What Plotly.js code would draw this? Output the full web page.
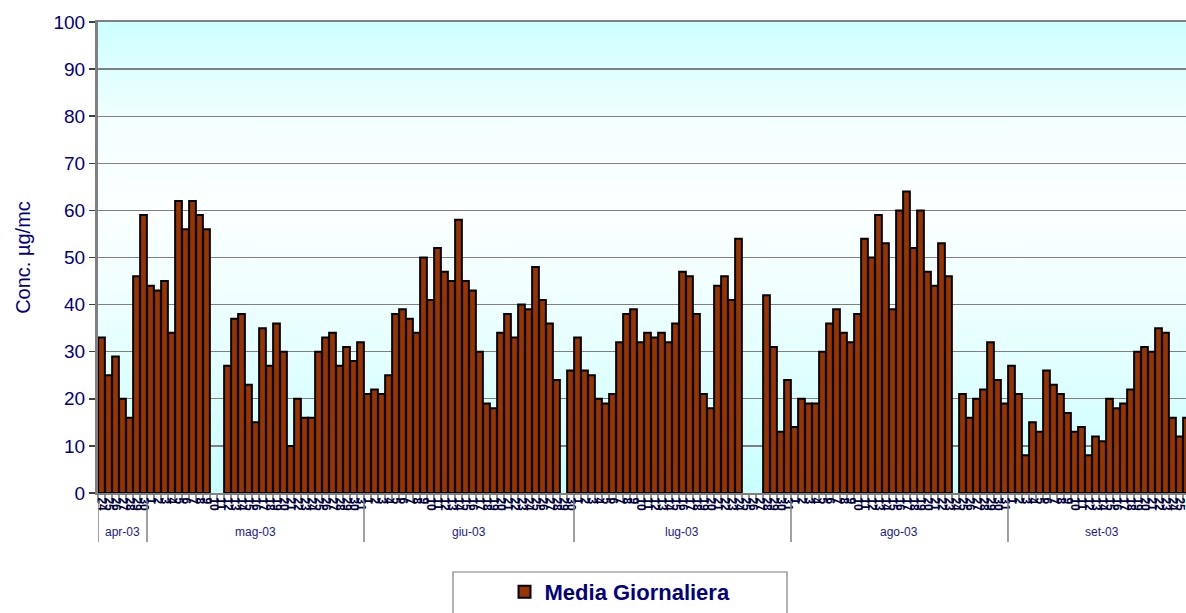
<!DOCTYPE html>
<html>
<head>
<meta charset="utf-8">
<script src="https://cdn.plot.ly/plotly-3.0.1.min.js"></script>
<style>
html,body{margin:0;padding:0;background:#ffffff;}
#chart{width:1186px;height:613px;}
</style>
</head>
<body>
<div id="chart"></div>
<script>
// ---- data ----
const startDate = [2003, 3, 24]; // 24 April 2003 (month 0-based)
// daily mean concentration (µg/mc); null = no measurement
const dailyMean = [
  33, 25, 29, 20, 16, 46, 59,
  44, 43, 45, 34, 62, 56, 62, 59, 56, null, null,
  27, 37, 38, 23, 15, 35, 27, 36, 30, 10, 20, 16, 16, 30, 33, 34, 27, 31, 28, 32,
  21, 22, 21, 25, 38, 39, 37, 34, 50, 41, 52, 47, 45, 58, 45, 43, 30, 19, 18, 34,
  38, 33, 40, 39, 48, 41, 36, 24, null, 26,
  33, 26, 25, 20, 19, 21, 32, 38, 39, 32, 34, 33, 34, 32, 36, 47, 46, 38, 21, 18,
  44, 46, 41, 54, null, null, null, 42, 31, 13, 24, 14, 20, 19, 19, 30, 36, 39,
  34, 32, 38, 54, 50, 59, 53, 39, 60, 64, 52, 60, 47, 44, 53, 46, null, 21, 16, 20,
  22, 32, 24, 19, 27, 21, 8, 15, 13, 26, 23, 21, 17, 13, 14, 8, 12, 11, 20, 18,
  19, 22, 30, 31, 30, 35, 34, 16, 12, 16
];
const monthLabels = ['apr-03', 'mag-03', 'giu-03', 'lug-03', 'ago-03', 'set-03'];
const seriesName = 'Media Giornaliera';
const yTitle = 'Conc. µg/mc';

// ---- categories (one per day) ----
const days = [], dayLabels = [], monthIdx = [];
for (let i = 0; i < dailyMean.length; i++) {
  const d = new Date(Date.UTC(startDate[0], startDate[1], startDate[2] + i));
  days.push(d.toISOString().slice(0, 10));
  dayLabels.push(String(d.getUTCDate()));
  monthIdx.push(d.getUTCMonth());
}

// month spans for the group labels
const spans = [];
monthIdx.forEach((m, i) => {
  if (!spans.length || spans[spans.length - 1].m !== m) spans.push({m: m, a: i, b: i});
  else spans[spans.length - 1].b = i;
});

const PLOT_TOP = 22, PLOT_BOTTOM = 493, H = PLOT_BOTTOM - PLOT_TOP;
const py = px => (PLOT_BOTTOM - px) / H; // pixel row -> paper y
const FONT = 'Liberation Sans, Arial, sans-serif';

const shapes = [];
const annotations = [];
spans.forEach((sp, k) => {
  shapes.push({type: 'line', xref: 'x', yref: 'paper', x0: sp.a - 0.5, x1: sp.a - 0.5,
    y0: py(501), y1: py(542), line: {color: '#808080', width: 1.5}});
  annotations.push({xref: 'x', yref: 'paper', x: (sp.a + sp.b) / 2 + (k === spans.length - 1 ? 0.5 : 0), y: py(532),
    text: monthLabels[k], showarrow: false, xanchor: 'center', yanchor: 'middle',
    font: {family: FONT, size: 12, color: '#1a1a8a'}});
});
// legend frame
shapes.push({type: 'rect', xref: 'paper', yref: 'paper',
  x0: (453 - 98) / 1088, x1: (787 - 98) / 1088, y0: py(572), y1: py(640),
  line: {color: '#808080', width: 1.2}, fillcolor: 'rgba(0,0,0,0)'});

// plot-area gradient background
const svg = "<svg xmlns='http://www.w3.org/2000/svg' width='10' height='100' preserveAspectRatio='none'>" +
  "<defs><linearGradient id='g' x1='0' y1='0' x2='0' y2='1'>" +
  "<stop offset='0' stop-color='#ccffff'/><stop offset='0.22' stop-color='#f4ffff'/>" +
  "<stop offset='0.4' stop-color='#fbffff'/><stop offset='0.6' stop-color='#eeffff'/>" +
  "<stop offset='1' stop-color='#c8ffff'/></linearGradient></defs>" +
  "<rect width='10' height='100' fill='url(#g)'/></svg>";
const bgImage = 'data:image/svg+xml;charset=utf-8,' + encodeURIComponent(svg);

const trace = {
  type: 'bar', x: days, y: dailyMean, name: seriesName,
  marker: {color: '#993300', line: {color: '#000000', width: 2}},
  showlegend: true
};

const layout = {
  width: 1186, height: 613,
  margin: {l: 98, r: 0, t: 22, b: 120},
  paper_bgcolor: '#ffffff',
  plot_bgcolor: 'rgba(0,0,0,0)',
  bargap: 0.04,
  font: {family: FONT, color: '#000080'},
  images: [{source: bgImage, xref: 'paper', yref: 'paper', x: 0, y: 1, sizex: 1, sizey: 1,
    xanchor: 'left', yanchor: 'top', sizing: 'stretch', layer: 'below'}],
  xaxis: {
    type: 'category', range: [-0.5, 154.93], tickmode: 'array', tickvals: days, ticktext: dayLabels,
    tickson: 'boundaries', ticks: 'outside', ticklen: 8, tickcolor: '#909090', tickwidth: 1.5,
    tickangle: 90, tickfont: {family: FONT, size: 12, color: '#000040', weight: 900},
    showgrid: false, showline: true, linecolor: '#808080', linewidth: 2, mirror: true, zeroline: false
  },
  yaxis: {
    range: [0, 100], dtick: 10, tick0: 0, ticks: 'outside', ticklen: 6, tickcolor: '#404040', tickwidth: 1.5,
    tickfont: {family: FONT, size: 19, color: '#000080'},
    showgrid: true, gridcolor: '#808080', gridwidth: 1.4,
    showline: true, linecolor: '#808080', linewidth: 3, zeroline: false,
    title: {text: yTitle, standoff: 18, font: {family: FONT, size: 20, color: '#000080'}}
  },
  showlegend: true,
  legend: {
    orientation: 'h', x: 0.4798, xanchor: 'center', y: py(592), yanchor: 'middle',
    bgcolor: 'rgba(0,0,0,0)', borderwidth: 0,
    font: {family: FONT, size: 22, color: '#000080', weight: 700}
  },
  shapes: shapes,
  annotations: annotations
};

Plotly.newPlot('chart', [trace], layout, {displayModeBar: false, staticPlot: true});
</script>
</body>
</html>
